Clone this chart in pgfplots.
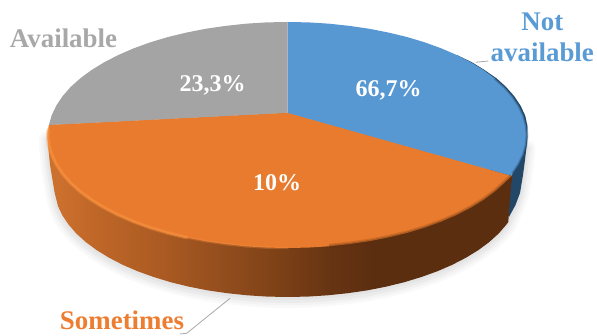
\documentclass[border=0pt]{standalone}
\usepackage{pgfplots}
\usepackage{pgfplotstable}
\usepackage{fontspec}
\pgfplotsset{compat=1.18}
\setmainfont{Liberation Serif}

\definecolor{pieblue}{HTML}{5797D2}
\definecolor{pieorange}{HTML}{E97B2E}
\definecolor{piegrey}{HTML}{A4A4A4}
\definecolor{labelblue}{HTML}{5B9BD5}
\definecolor{labelorange}{HTML}{ED7D31}
\definecolor{labelgrey}{HTML}{A8A8A8}
\definecolor{wallblue}{HTML}{234767}
\definecolor{walldark}{HTML}{5C2E10}
\definecolor{rimlight}{HTML}{F8913F}
\definecolor{leader}{HTML}{A8A8A8}

\tikzset{
  catname/.style={anchor=base, font=\fontsize{26.9}{28}\selectfont\bfseries},
  share/.style={anchor=base, text=white, font=\fontsize{24}{25}\selectfont\bfseries},
}

% Light falling from the left along the side of the orange slice
\pgfdeclarehorizontalshading{orangewall}{100bp}{
  rgb(0bp)=(0.80,0.44,0.18);
  rgb(26bp)=(0.80,0.44,0.18);
  rgb(30.5bp)=(0.745,0.40,0.155);
  rgb(37.5bp)=(0.667,0.353,0.133);
  rgb(45bp)=(0.561,0.294,0.11);
  rgb(50.75bp)=(0.478,0.247,0.086);
  rgb(55bp)=(0.408,0.208,0.075);
  rgb(60bp)=(0.361,0.18,0.063);
  rgb(100bp)=(0.361,0.18,0.063)}

% Slice outlines, measured from the centre of the upper ellipse
\pgfplotstableread{
x y
0 22
0 113
20.9 112.6
41.6 111.3
62.0 109.1
81.9 106.2
101.2 102.4
119.8 97.9
137.4 92.6
153.9 86.6
169.4 79.9
183.5 72.6
196.2 64.8
207.4 56.5
217.1 47.8
225.1 38.6
231.3 29.2
235.9 19.6
238.6 9.9
239.5 0
238.6 -9.9
235.9 -19.6
231.3 -29.2
225.1 -38.6
224.2 -41
}\blueslice

\pgfplotstableread{
x y
0 22
0 113
-20.9 112.6
-41.6 111.3
-62.0 109.1
-81.9 106.2
-101.2 102.4
-119.8 97.9
-137.4 92.6
-153.9 86.6
-169.4 79.9
-183.5 72.6
-196.2 64.8
-207.4 56.5
-217.1 47.8
-225.1 38.6
-231.3 29.2
-235.9 19.6
-238.6 9.9
}\greyslice

\pgfplotstableread{
x y
0 22
-238.6 9.9
-239.5 0
-238.6 -9.9
-235.9 -19.6
-231.3 -29.2
-225.1 -38.6
-217.1 -47.8
-207.4 -56.5
-196.2 -64.8
-183.5 -72.6
-169.4 -79.9
-153.9 -86.6
-137.4 -92.6
-119.8 -97.9
-101.2 -102.4
-81.9 -106.2
-62.0 -109.1
-41.6 -111.3
-20.9 -112.6
0 -113
20.9 -112.6
41.6 -111.3
62.0 -109.1
81.9 -106.2
101.2 -102.4
119.8 -97.9
137.4 -92.6
153.9 -86.6
169.4 -79.9
183.5 -72.6
196.2 -64.8
207.4 -56.5
217.1 -47.8
224.2 -41
}\orangeslice

% Side of the orange slice
\pgfplotstableread{
x y
-238.6 9.9
-239.8 -3
-239 -15
-237.5 -30
-235 -45
-232.8 -58
-229.5 -71.1
-225.1 -80.5
-218.9 -89.6
-211.2 -98.5
-201.8 -107
-190.9 -115.1
-178.5 -122.7
-164.8 -129.8
-149.8 -136.3
-133.6 -142.1
-116.5 -147.3
-98.5 -151.7
-79.7 -155.4
-60.3 -158.2
-40.4 -160.3
-20.3 -161.6
0 -162
20.3 -161.6
40.4 -160.3
60.3 -158.2
79.7 -155.4
98.5 -151.7
116.5 -147.3
133.6 -142.1
149.8 -136.3
164.8 -129.8
178.5 -122.7
190.9 -115.1
201.8 -107
211.2 -98.5
218.9 -89.6
220.8 -87
224.2 -41
0 22
}\orangeside

% Side of the blue slice
\pgfplotstableread{
x y
169.4 79.9
184 73
197 65
208.5 57
218.5 48
226.8 38.6
233.2 29
237.8 19
239.8 9
240 -2
239 -12
237.5 -25
235.5 -40
232.5 -58
228 -70
221.5 -82
210 -60
}\blueside

% Lower outline of the whole body, used for the cast shadow
\pgfplotstableread{
x y
-239.8 -3
-239 -15
-237.5 -30
-235 -45
-232.8 -58
-229.5 -71.1
-225.1 -80.5
-218.9 -89.6
-211.2 -98.5
-201.8 -107
-190.9 -115.1
-178.5 -122.7
-164.8 -129.8
-149.8 -136.3
-133.6 -142.1
-116.5 -147.3
-98.5 -151.7
-79.7 -155.4
-60.3 -158.2
-40.4 -160.3
-20.3 -161.6
0 -162
20.3 -161.6
40.4 -160.3
60.3 -158.2
79.7 -155.4
98.5 -151.7
116.5 -147.3
133.6 -142.1
149.8 -136.3
164.8 -129.8
178.5 -122.7
190.9 -115.1
201.8 -107
211.2 -98.5
218.9 -89.6
228 -70
232.5 -58
235.5 -40
237.5 -25
239 -12
}\bodyoutline

% Bevel along the upper edge: bright on the left, dark on the right
\pgfplotstableread{
x y
-239 5
-239.5 0
-238.6 -9.9
-235.9 -19.6
-231.3 -29.2
-225.1 -38.6
-217.1 -47.8
-207.4 -56.5
-196.2 -64.8
-183.5 -72.6
-169.4 -79.9
-153.9 -86.6
-137.4 -92.6
-119.8 -97.9
-101.2 -102.4
}\bevelbright

\pgfplotstableread{
x y
-101.2 -102.4
-81.9 -106.2
-62.0 -109.1
-41.6 -111.3
-20.9 -112.6
0 -113
}\bevelfaint

\pgfplotstableread{
x y
41.6 -111.3
62.0 -109.1
81.9 -106.2
101.2 -102.4
119.8 -97.9
137.4 -92.6
153.9 -86.6
169.4 -79.9
183.5 -72.6
196.2 -64.8
207.4 -56.5
217.1 -47.8
224.2 -41
}\beveldark

\pgfplotstableread{
x y
207.4 56.5
217.1 47.8
225.1 38.6
231.3 29.2
235.9 19.6
238.6 9.9
239.5 0
238.6 -9.9
235.9 -19.6
231.3 -29.2
225.1 -38.6
}\bevelblue

\pgfplotstableread{
x y
188.2 72.7
200.8 74
}\leaderblue

\pgfplotstableread{
x y
-57.5 -163.3
-100.8 -198.3
-107.5 -199
}\leaderorange

\begin{document}
\begin{tikzpicture}
\begin{axis}[
    scale only axis,
    width=597pt, height=336pt,
    xmin=-287.5, xmax=309.5,
    ymin=-201, ymax=135,
    hide axis,
    clip=false,
]
% cast shadow
\addplot[draw=black, opacity=0.025, line width=18pt, line join=round, line cap=round] table[y expr=\thisrow{y}-2] {\bodyoutline};
\addplot[draw=black, opacity=0.025, line width=13pt, line join=round, line cap=round] table[y expr=\thisrow{y}-2] {\bodyoutline};
\addplot[draw=black, opacity=0.03, line width=8pt, line join=round, line cap=round] table[y expr=\thisrow{y}-2] {\bodyoutline};
\addplot[draw=black, opacity=0.03, line width=4pt, line join=round, line cap=round] table[y expr=\thisrow{y}-1] {\bodyoutline};
% sides
\addplot[draw=none, fill=wallblue] table {\blueside};
\addplot[draw=none, shading=orangewall] table {\orangeside};
% upper faces
\addplot[draw=none, fill=pieblue] table {\blueslice};
\addplot[draw=none, fill=piegrey] table {\greyslice};
\addplot[draw=none, fill=pieorange] table {\orangeslice};
% bevel
\addplot[draw=rimlight, opacity=0.35, line width=4pt, line cap=round, line join=round] table {\bevelbright};
\addplot[draw=rimlight, opacity=0.7, line width=2pt, line cap=round, line join=round] table {\bevelbright};
\addplot[draw=rimlight, opacity=0.3, line width=2.5pt, line cap=round, line join=round] table {\bevelfaint};
\addplot[draw=walldark, opacity=0.18, line width=5pt, line join=round] table {\beveldark};
\addplot[draw=walldark, opacity=0.3, line width=2.5pt, line join=round] table {\beveldark};
\addplot[draw=wallblue, opacity=0.25, line width=3pt, line join=round] table {\bevelblue};
\addplot[draw=wallblue, opacity=0.3, line width=1.5pt, line join=round] table {\bevelblue};
% leader lines
\addplot[draw=leader, line width=0.8pt] table {\leaderblue};
\addplot[draw=leader, line width=0.8pt] table {\leaderorange};
% category names
\node[catname, text=labelgrey] at (axis cs:-224,87) {Available};
\node[catname, text=labelblue] at (axis cs:254.8,104.3) {Not};
\node[catname, text=labelblue] at (axis cs:254.8,73.3) {available};
\node[catname, text=labelorange] at (axis cs:-165.5,-195) {Sometimes};
% percentages
\node[share] at (axis cs:-75,43.3) {23,3\%};
\node[share] at (axis cs:101,38.3) {66,7\%};
\node[share] at (axis cs:-10.5,-56) {10\%};
\end{axis}
\pgfresetboundingbox
\path[use as bounding box] (0,0) rectangle (597pt,336pt);
\end{tikzpicture}
\end{document}
